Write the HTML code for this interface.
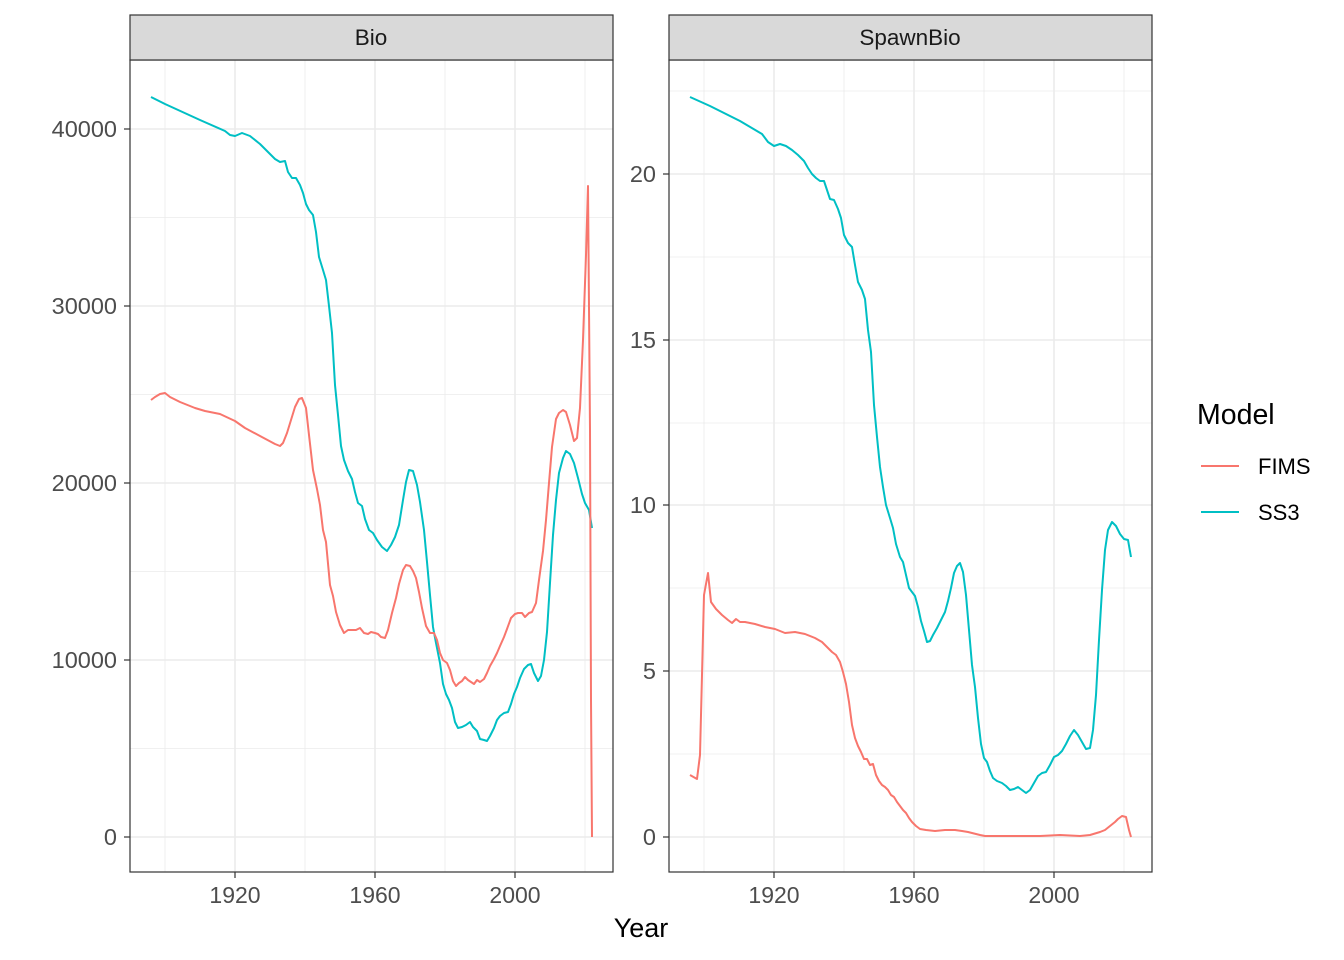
<!DOCTYPE html>
<html><head><meta charset="utf-8"><style>body{margin:0;background:#fff}svg{display:block}text{font-family:"Liberation Sans",sans-serif}</style></head><body>
<svg width="1344" height="960" xmlns="http://www.w3.org/2000/svg">
<rect width="1344" height="960" fill="#fff"/>
<g stroke="#ebebeb" stroke-width="0.8">
<line x1="130" x2="613" y1="217.5" y2="217.5"/><line x1="130" x2="613" y1="394.5" y2="394.5"/><line x1="130" x2="613" y1="571.5" y2="571.5"/><line x1="130" x2="613" y1="748.5" y2="748.5"/>
<line x1="165" x2="165" y1="60" y2="872"/><line x1="305" x2="305" y1="60" y2="872"/><line x1="445" x2="445" y1="60" y2="872"/><line x1="585" x2="585" y1="60" y2="872"/>
<line x1="669" x2="1152" y1="91" y2="91"/><line x1="669" x2="1152" y1="257" y2="257"/><line x1="669" x2="1152" y1="423" y2="423"/><line x1="669" x2="1152" y1="588" y2="588"/><line x1="669" x2="1152" y1="754" y2="754"/>
<line x1="704" x2="704" y1="60" y2="872"/><line x1="844" x2="844" y1="60" y2="872"/><line x1="984" x2="984" y1="60" y2="872"/><line x1="1124" x2="1124" y1="60" y2="872"/>
</g>
<g stroke="#ebebeb" stroke-width="1.6">
<line x1="130" x2="613" y1="129" y2="129"/><line x1="130" x2="613" y1="306" y2="306"/><line x1="130" x2="613" y1="483" y2="483"/><line x1="130" x2="613" y1="660" y2="660"/><line x1="130" x2="613" y1="837" y2="837"/>
<line x1="235" x2="235" y1="60" y2="872"/><line x1="375" x2="375" y1="60" y2="872"/><line x1="515" x2="515" y1="60" y2="872"/>
<line x1="669" x2="1152" y1="174" y2="174"/><line x1="669" x2="1152" y1="340" y2="340"/><line x1="669" x2="1152" y1="505" y2="505"/><line x1="669" x2="1152" y1="671" y2="671"/><line x1="669" x2="1152" y1="837" y2="837"/>
<line x1="774" x2="774" y1="60" y2="872"/><line x1="914" x2="914" y1="60" y2="872"/><line x1="1054" x2="1054" y1="60" y2="872"/>
</g>
<g fill="none" stroke-width="2" stroke-linejoin="round">
<polyline stroke="#00bfc4" points="151,97 165,104 200,120 225,131 230,135 235,136 242,133 250,136 260,144 268,152 275,159 280,162 285,161 288,172 292,178 296,178 300,185 303,193 306,204 309,210 313,215 316,232 319,257 323,270 326,280 329,306 332,333 335,385 338,415 341,446 344,460 348,471 352,479 355,492 358,503 362,506 365,519 369,530 373,533 377,540 382,547 387,551 391,545 395,537 399,525 403,500 406,482 409,470 413,471 417,485 420,502 424,530 427,562 430,595 433,627 436,643 440,663 443,684 446,694 449,700 452,708 455,722 458,728 462,727 466,725 470,722 473,727 477,731 480,739 484,740 487,741 490,736 494,728 497,720 500,716 504,713 508,712 511,704 514,694 517,687 520,678 524,669 528,665 531,664 534,673 538,681 541,676 544,660 547,632 550,583 553,535 556,500 559,473 563,458 566,451 570,454 574,463 578,478 582,494 585,503 589,510 592,528"/>
<polyline stroke="#f8766d" points="151,400 155,397 160,394 165,393 170,397 180,402 195,408 205,411 220,414 235,421 245,428 260,436 275,444 280,446 283,443 287,433 291,420 295,407 299,399 302,398 306,408 309,435 313,470 317,489 320,505 323,530 326,542 330,585 333,596 336,612 340,625 344,633 348,630 352,630 356,630 360,628 364,633 368,634 371,632 375,633 378,634 381,637 385,638 388,630 392,613 396,598 399,584 403,570 406,565 410,566 413,571 416,578 419,592 422,608 426,626 430,633 434,633 437,640 440,653 443,660 447,663 450,670 453,681 456,686 459,683 462,681 465,677 468,680 471,682 474,684 477,680 480,682 484,679 487,673 490,666 494,659 497,653 500,646 504,637 507,629 511,618 515,614 518,613 522,613 525,617 529,613 532,612 536,603 539,580 543,551 546,520 549,483 552,447 556,419 559,413 563,410 566,412 570,425 574,441 577,438 580,408 583,340 586,255 588,186 590,430 591,700 592,837"/>
<polyline stroke="#00bfc4" points="690,97 710,106 740,121 762,134 768,142 774,146 780,144 786,146 792,150 798,155 804,161 808,168 812,174 816,178 820,181 824,181 827,190 830,199 834,200 838,209 841,218 844,235 848,243 852,247 855,265 858,282 862,290 865,299 868,330 871,352 874,405 877,437 880,467 883,487 886,505 890,518 893,528 896,544 900,557 903,562 906,575 909,588 912,592 915,596 918,607 921,621 924,631 927,642 930,641 933,635 937,628 941,620 945,612 948,601 951,588 954,573 957,566 960,563 963,572 966,595 969,630 972,665 975,687 978,718 981,744 984,758 987,762 990,771 993,778 997,781 1002,783 1006,786 1010,790 1014,789 1018,787 1022,790 1026,793 1030,790 1034,783 1038,776 1042,773 1046,772 1050,765 1054,757 1058,755 1062,751 1066,744 1070,736 1074,730 1078,735 1082,742 1086,749 1090,748 1093,730 1096,695 1099,640 1102,590 1105,550 1108,530 1112,522 1116,526 1120,534 1124,539 1128,540 1131,557"/>
<polyline stroke="#f8766d" points="690,775 697,779 700,755 704,595 708,573 711,602 716,609 722,615 728,620 732,623 736,619 740,622 745,622 755,624 765,627 775,629 785,633 795,632 805,634 815,638 822,642 828,648 832,652 836,655 840,662 843,672 846,684 849,702 852,725 855,738 858,746 861,752 864,759 867,759 870,765 873,764 876,775 879,781 882,785 885,787 888,790 891,795 894,797 897,802 900,806 903,810 906,813 909,818 912,822 916,826 920,829 926,830 935,831 945,830 955,830 962,831 968,832 972,833 976,834 980,835 985,836 1000,836 1040,836 1060,835 1080,836 1090,835 1100,832 1105,830 1110,826 1115,822 1118,819 1122,816 1126,817 1129,830 1131,837"/>
</g>
<g fill="none" stroke="#333" stroke-width="1.2">
<rect x="130" y="60" width="483" height="812"/><rect x="669" y="60" width="483" height="812"/>
</g>
<rect x="130" y="15" width="483" height="45" fill="#d9d9d9" stroke="#333" stroke-width="1.2"/>
<rect x="669" y="15" width="483" height="45" fill="#d9d9d9" stroke="#333" stroke-width="1.2"/>
<g font-size="22.5" fill="#1a1a1a" text-anchor="middle"><text x="371" y="45">Bio</text><text x="910" y="45">SpawnBio</text></g>
<g stroke="#333" stroke-width="1.2">
<line x1="124" x2="130" y1="129" y2="129"/><line x1="124" x2="130" y1="306" y2="306"/><line x1="124" x2="130" y1="483" y2="483"/><line x1="124" x2="130" y1="660" y2="660"/><line x1="124" x2="130" y1="837" y2="837"/>
<line x1="663" x2="669" y1="174" y2="174"/><line x1="663" x2="669" y1="340" y2="340"/><line x1="663" x2="669" y1="505" y2="505"/><line x1="663" x2="669" y1="671" y2="671"/><line x1="663" x2="669" y1="837" y2="837"/>
<line x1="235" x2="235" y1="872" y2="878"/><line x1="375" x2="375" y1="872" y2="878"/><line x1="515" x2="515" y1="872" y2="878"/>
<line x1="774" x2="774" y1="872" y2="878"/><line x1="914" x2="914" y1="872" y2="878"/><line x1="1054" x2="1054" y1="872" y2="878"/>
</g>
<g font-size="23.5" fill="#4d4d4d" text-anchor="end">
<text x="117" y="137">40000</text><text x="117" y="314">30000</text><text x="117" y="491">20000</text><text x="117" y="668">10000</text><text x="117" y="845">0</text>
<text x="656" y="182">20</text><text x="656" y="348">15</text><text x="656" y="513">10</text><text x="656" y="679">5</text><text x="656" y="845">0</text>
</g>
<g font-size="23" fill="#4d4d4d" text-anchor="middle">
<text x="235" y="903">1920</text><text x="375" y="903">1960</text><text x="515" y="903">2000</text>
<text x="774" y="903">1920</text><text x="914" y="903">1960</text><text x="1054" y="903">2000</text>
</g>
<text x="641" y="937" font-size="27" text-anchor="middle" fill="#000">Year</text>
<text x="1197" y="424" font-size="28.5" fill="#000">Model</text>
<line x1="1201" x2="1239" y1="466" y2="466" stroke="#f8766d" stroke-width="2"/>
<line x1="1201" x2="1239" y1="512" y2="512" stroke="#00bfc4" stroke-width="2"/>
<text x="1258" y="474" font-size="22" fill="#000">FIMS</text>
<text x="1258" y="520" font-size="22" fill="#000">SS3</text>
</svg>
</body></html>
